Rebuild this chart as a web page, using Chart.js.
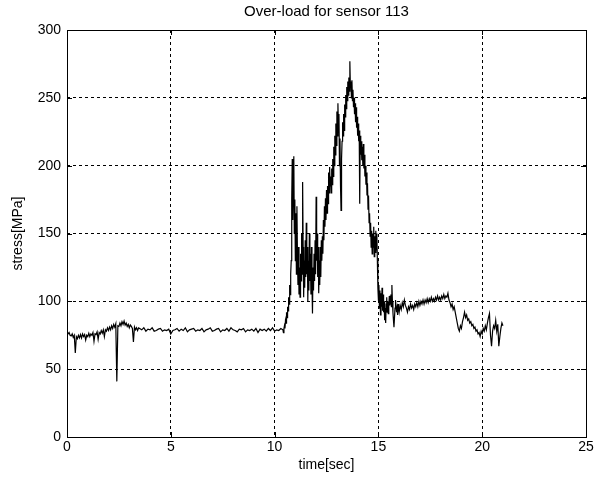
<!DOCTYPE html>
<html>
<head>
<meta charset="utf-8">
<script src="https://cdn.jsdelivr.net/npm/chart.js@4"></script>
<style>
  html, body { margin: 0; padding: 0; background: #fff; }
  #wrap { width: 601px; height: 482px; }
</style>
</head>
<body>
<div id="wrap"><canvas id="stressChart" width="601" height="482"></canvas></div>
<script>
const seg1Start = 0, seg1Step = 0.05;
const seg1Stress = [
    77.5, 76, 77, 75, 74.5, 76, 73.5, 75, 62, 74,
    72.5, 75, 73, 75.5, 73, 76, 74, 75.5, 71.5, 75,
    74, 76.5, 74, 76, 75, 77, 70.5, 76, 75.5, 77.5,
    72, 77, 76, 78.5, 76.5, 79, 74, 79, 78, 80.5,
    78.5, 81, 79, 82, 80, 83, 81, 83.5, 41, 82,
    81.5, 84, 82, 85, 83, 85.5, 82.5, 84, 81.5, 83,
    80.5, 82.5, 81.5, 80, 70, 81, 79, 80.5, 78.5, 80.5
];
const seg2Start = 3.5, seg2Step = 0.1;
const seg2Stress = [
    80, 79, 80.5, 78, 79.5, 79, 80.5, 78, 78.5, 79.5,
    80, 78, 79, 78.5, 79.5, 76, 78.5, 79, 80, 78,
    79.5, 78.5, 80.5, 77.5, 79, 79.5, 80, 78, 79, 78.5,
    80, 77.5, 79, 79.5, 80.5, 78, 78.5, 79.5, 80, 77.5,
    79, 78.5, 80, 78, 80.5, 79, 78.5, 77.5, 79.5, 79,
    80, 77.5, 79, 78.5, 79.5, 78, 80, 77, 79.5, 78.5,
    79.5, 78, 80, 78.5, 80.5, 78, 79, 78.5, 80
];
const seg3Start = 10.4, seg3Step = 0.025;
const seg3Stress = [
    79, 77, 80, 82, 80, 86, 84, 92, 88, 96, 93, 103, 98, 112, 105, 120,
    130, 175, 205, 160, 190, 207, 150, 175, 130, 165,
    120, 170, 135, 112, 140, 105, 125, 103, 135, 115,
    150, 120, 188, 140, 103, 130, 110, 145, 118, 158,
    120, 140, 100, 130, 108, 150, 115, 135, 105, 140,
    112, 91, 125, 108, 135, 115, 145, 120, 177, 130,
    150, 118, 140, 106, 130, 112, 140, 118, 145, 130,
    148, 135, 160, 145, 170, 155, 176, 160, 182, 165,
    185, 172, 195, 180, 199, 185, 192, 180, 198, 186,
    205, 192, 214, 200, 222, 208, 231, 215, 240, 222,
    246, 228, 238, 200, 220, 185, 167, 205, 218, 232,
    222, 238, 226, 245, 236, 252, 242, 258, 248, 262,
    252, 265, 255, 277, 258, 262, 250, 263, 248, 256,
    243, 250, 238, 246, 232, 243, 228, 236, 222, 231,
    218, 226, 172, 222, 208, 218, 204, 214, 200, 216,
    198, 208, 192, 200, 186, 195, 178, 187, 168, 178,
    158, 165, 148, 158, 140, 152, 135, 150, 140, 155,
    133, 148, 136, 152, 138, 150, 130, 110, 101,
    112, 95, 108, 90, 106, 96, 110, 93, 105, 92,
    100, 86, 95, 84, 98, 103, 92, 100, 91, 96,
    104, 97, 100, 105, 96, 112, 100, 92, 86, 81,
    88, 95, 101, 96, 92, 95, 90, 98, 95
];
const seg4Start = 16.0, seg4Step = 0.05;
const seg4Stress = [
    92, 97, 94, 99, 96, 101, 97, 95, 92, 96,
    94, 98, 95, 97, 94, 98, 96, 99, 96, 100,
    97, 100, 98, 101, 98, 101, 99, 102, 99, 102,
    100, 103, 100, 102, 100, 103, 101, 104, 101, 103,
    101, 104, 102, 105, 102, 104, 103, 106, 101, 99,
    96, 98, 94, 96, 92, 88, 84, 80, 78, 82,
    80, 85, 88, 92, 88, 90, 86, 87, 84, 85,
    82, 83, 80, 81, 78, 79, 76, 77, 74, 78,
    76, 80, 78, 82, 79, 84, 88, 91, 75, 67,
    78, 82, 80, 86, 78, 83, 67, 74, 80, 84,
    82
];
const xTicks = [0, 5, 10, 15, 20, 25];
const yTicks = [0, 50, 100, 150, 200, 250, 300];
const chartTitle = "Over-load for sensor 113";

const segments = [
    [seg1Start, seg1Step, seg1Stress],
    [seg2Start, seg2Step, seg2Stress],
    [seg3Start, seg3Step, seg3Stress],
    [seg4Start, seg4Step, seg4Stress],
];
const points = [];
segments.forEach(([start, step, values]) => {
    values.forEach((v, i) => points.push({ x: +(start + i * step).toFixed(3), y: v }));
});

const fontFamily = "'Liberation Sans', Arial, sans-serif";

// MATLAB style box, inward tick marks and title centred over the axes
const boxPlugin = {
    id: "boxPlugin",
    afterDraw(chart) {
        const { ctx, chartArea: a, scales } = chart;
        ctx.save();
        ctx.strokeStyle = "#000";
        ctx.lineWidth = 1;
        ctx.setLineDash([]);
        ctx.strokeRect(Math.round(a.left) + 0.5, Math.round(a.top) + 0.5,
            Math.round(a.right - a.left), Math.round(a.bottom - a.top));
        ctx.beginPath();
        xTicks.forEach((t) => {
            const px = Math.round(scales.x.getPixelForValue(t)) + 0.5;
            ctx.moveTo(px, a.bottom); ctx.lineTo(px, a.bottom - 5);
            ctx.moveTo(px, a.top); ctx.lineTo(px, a.top + 5);
        });
        yTicks.forEach((v) => {
            const py = Math.round(scales.y.getPixelForValue(v)) + 0.5;
            ctx.moveTo(a.left, py); ctx.lineTo(a.left + 5, py);
            ctx.moveTo(a.right, py); ctx.lineTo(a.right - 5, py);
        });
        ctx.stroke();

        ctx.fillStyle = "#000";
        ctx.font = "15px " + fontFamily;
        ctx.textAlign = "center";
        ctx.textBaseline = "middle";
        ctx.fillText(chartTitle, (a.left + a.right) / 2, 12);
        ctx.restore();
    }
};

const ctx = document.getElementById("stressChart").getContext("2d");
new Chart(ctx, {
    type: "line",
    data: {
        datasets: [
            {
                data: points,
                borderColor: "#000",
                borderWidth: 1.2,
                pointRadius: 0,
                tension: 0,
            },
        ],
    },
    options: {
        responsive: false,
        animation: false,
        layout: { padding: { left: 0, right: 15, top: 30, bottom: 0 } },
        plugins: {
            legend: { display: false },
            tooltip: { enabled: false },
            title: { display: false },
        },
        scales: {
            x: {
                type: "linear",
                min: 0,
                max: 25,
                afterBuildTicks: (scale) => { scale.ticks = xTicks.map((v) => ({ value: v })); },
                ticks: { color: "#000", font: { family: fontFamily, size: 14 }, padding: 2, maxRotation: 0 },
                grid: { color: "#000", lineWidth: 1, drawTicks: false },
                border: { display: false, dash: [3, 3] },
                title: {
                    display: true,
                    text: "time[sec]",
                    color: "#000",
                    font: { family: fontFamily, size: 14 },
                    padding: { top: 0, bottom: 8 },
                },
                afterFit: (scale) => { scale.height = 45; },
            },
            y: {
                min: 0,
                max: 300,
                afterBuildTicks: (scale) => { scale.ticks = yTicks.map((v) => ({ value: v })); },
                ticks: { color: "#000", font: { family: fontFamily, size: 14 }, padding: 6 },
                grid: { color: "#000", lineWidth: 1, drawTicks: false },
                border: { display: false, dash: [3, 3] },
                title: {
                    display: true,
                    text: "stress[MPa]",
                    color: "#000",
                    font: { family: fontFamily, size: 14 },
                    padding: { top: 10, bottom: 0 },
                },
                afterFit: (scale) => { scale.width = 67; },
            },
        },
    },
    plugins: [boxPlugin],
});
</script>
</body>
</html>
